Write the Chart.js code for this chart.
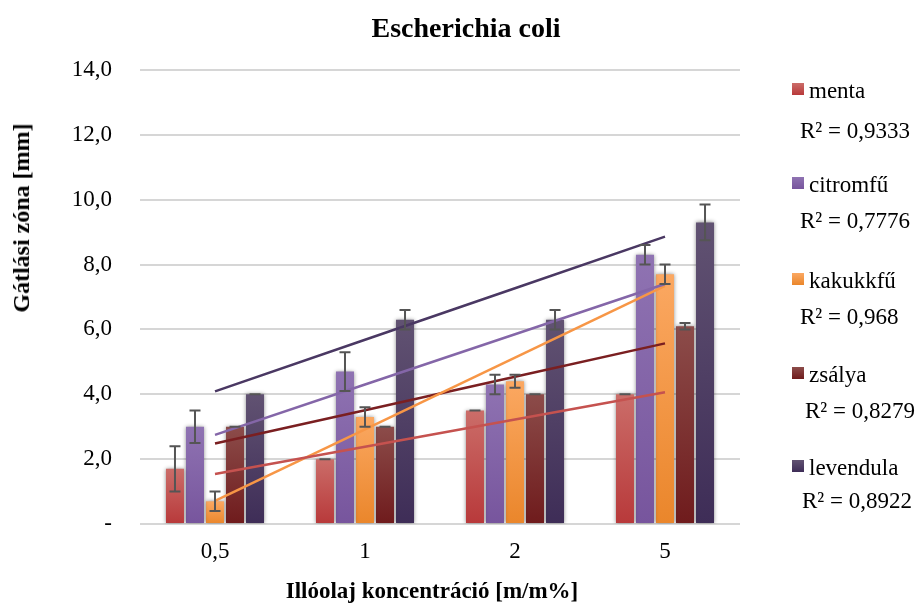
<!DOCTYPE html>
<html>
<head>
<meta charset="utf-8">
<script src="https://cdn.jsdelivr.net/npm/chart.js@4/dist/chart.umd.min.js"></script>
<style>
  html, body { margin: 0; padding: 0; background: #fff; }
  #wrap { position: relative; width: 920px; height: 606px; font-family: "Liberation Serif", serif; color: #000; }
  #c { position: absolute; left: 0; top: 0; }
  .t { position: absolute; white-space: nowrap; line-height: 1; font-family: "Liberation Serif", serif; }
  .ctr { transform: translate(-50%, -50%); }
  .box { position: absolute; width: 12px; height: 12px; }
</style>
</head>
<body>
<div id="wrap">
  <canvas id="c" width="920" height="606"></canvas>
</div>
<script>
const categories = ['0,5', '1', '2', '5'];
const seriesNames = ['menta', 'citromfű', 'kakukkfű', 'zsálya', 'levendula'];
const menta = [1.7, 2.0, 3.5, 4.0];
const citromfu = [3.0, 4.7, 4.3, 8.3];
const kakukkfu = [0.7, 3.3, 4.4, 7.7];
const zsalya = [3.0, 3.0, 4.0, 6.1];
const levendula = [4.0, 6.3, 6.3, 9.3];
const mentaErr = [0.7, 0, 0, 0];
const citromfuErr = [0.5, 0.6, 0.3, 0.3];
const kakukkfuErr = [0.3, 0.3, 0.2, 0.3];
const zsalyaErr = [0, 0, 0, 0.1];
const levendulaErr = [0, 0.3, 0.3, 0.55];
const r2Labels = ['0,9333', '0,7776', '0,968', '0,8279', '0,8922'];
const yTicks = [0, 2, 4, 6, 8, 10, 12, 14];

const values = [menta, citromfu, kakukkfu, zsalya, levendula];
const errors = [mentaErr, citromfuErr, kakukkfuErr, zsalyaErr, levendulaErr];

const gradTop = ['#cb6d69', '#8f73b2', '#fba862', '#8c4c4a', '#615272'];
const gradBot = ['#b8393a', '#77559d', '#ea862b', '#6f1b1c', '#3e2d57'];
const solid = ['#c0504d', '#8064a2', '#f79646', '#7b2a2a', '#4f3f66'];
const lineCol = ['#c5524f', '#8466a8', '#f79646', '#7a1f21', '#4a3863'];

function linFit(arr) {
  const n = arr.length;
  const xs = arr.map((_, i) => i + 1);
  const mx = xs.reduce((a, b) => a + b, 0) / n;
  const my = arr.reduce((a, b) => a + b, 0) / n;
  let sxy = 0, sxx = 0;
  for (let i = 0; i < n; i++) { sxy += (xs[i] - mx) * (arr[i] - my); sxx += (xs[i] - mx) ** 2; }
  const b = sxy / sxx, a = my - b * mx;
  return xs.map(x => a + b * x);
}

const FONT = '"Liberation Serif", serif';

const datasets = [];
values.forEach((v, i) => {
  datasets.push({
    type: 'bar',
    label: seriesNames[i],
    data: v,
    order: 1,
    errs: errors[i],
    borderWidth: 0,
    backgroundColor: (c) => {
      if (c.type !== 'data' || !c.chart.scales || !c.chart.scales.y) return solid[i];
      const ys = c.chart.scales.y;
      const top = ys.getPixelForValue(c.parsed ? c.parsed.y : v[c.dataIndex]);
      const bot = ys.getPixelForValue(0);
      if (!isFinite(top) || !isFinite(bot) || top === bot) return solid[i];
      const g = c.chart.ctx.createLinearGradient(0, top, 0, bot);
      g.addColorStop(0, gradTop[i]);
      g.addColorStop(1, gradBot[i]);
      return g;
    }
  });
});
values.forEach((v, i) => {
  datasets.push({
    type: 'line',
    label: seriesNames[i] + ' trend',
    data: linFit(v),
    order: 0,
    borderColor: lineCol[i],
    borderWidth: 2.5,
    pointRadius: 0,
    fill: false,
    tension: 0
  });
});

const shadowPlugin = {
  id: 'barShadow',
  beforeDatasetDraw(chart, args) {
    const ds = chart.data.datasets[args.index];
    if (ds.type === 'bar') {
      const ctx = chart.ctx;
      ctx.save();
      ctx.shadowColor = 'rgba(0,0,0,0.45)';
      ctx.shadowBlur = 4;
      ctx.shadowOffsetX = 0;
      ctx.shadowOffsetY = 0;
    }
  },
  afterDatasetDraw(chart, args) {
    const ds = chart.data.datasets[args.index];
    if (ds.type === 'bar') chart.ctx.restore();
  }
};

const errorPlugin = {
  id: 'errorBars',
  afterDatasetsDraw(chart) {
    const ctx = chart.ctx;
    const ys = chart.scales.y;
    ctx.save();
    ctx.strokeStyle = '#555555';
    ctx.lineWidth = 2;
    chart.data.datasets.forEach((ds, di) => {
      if (ds.type !== 'bar' || !ds.errs) return;
      const meta = chart.getDatasetMeta(di);
      meta.data.forEach((el, j) => {
        const v = ds.data[j], e = ds.errs[j];
        const x = el.x;
        const yHi = ys.getPixelForValue(v + e);
        const yLo = ys.getPixelForValue(v - e);
        const half = 5.5;
        ctx.beginPath();
        ctx.moveTo(x, yHi); ctx.lineTo(x, yLo);
        ctx.moveTo(x - half, yHi); ctx.lineTo(x + half, yHi);
        ctx.moveTo(x - half, yLo); ctx.lineTo(x + half, yLo);
        ctx.stroke();
      });
    });
    ctx.restore();
  }
};

new Chart(document.getElementById('c'), {
  type: 'bar',
  data: { labels: categories, datasets },
  options: {
    responsive: false,
    animation: false,
    devicePixelRatio: 1,
    layout: { padding: { top: 70, right: 180, bottom: 0, left: 0 } },
    datasets: { bar: { categoryPercentage: 0.667, barPercentage: 0.9 } },
    plugins: { legend: { display: false }, title: { display: false }, tooltip: { enabled: false } },
    scales: {
      x: {
        offset: true,
        grid: { display: false, drawTicks: false },
        border: { display: false },
        ticks: { color: '#000', padding: 14, font: { family: FONT, size: 23 } },
        afterFit(s) { s.height = 82; }
      },
      y: {
        min: 0, max: 14,
        afterBuildTicks(s) { s.ticks = yTicks.map(v => ({ value: v })); },
        grid: { color: '#d6d6d6', lineWidth: 2, drawTicks: false },
        border: { display: false },
        ticks: {
          color: '#000', padding: 28, font: { family: FONT, size: 23 },
          callback: (v) => v === 0 ? '-' : v.toFixed(1).replace('.', ',')
        },
        afterFit(s) { s.width = 140; }
      }
    }
  },
  plugins: [shadowPlugin, errorPlugin]
});

// Text overlays (titles + legend)
const wrap = document.getElementById('wrap');
function addText(txt, left, top, style, cls) {
  const d = document.createElement('div');
  d.className = 't' + (cls ? ' ' + cls : '');
  d.textContent = txt;
  d.style.left = left + 'px';
  d.style.top = top + 'px';
  Object.assign(d.style, style || {});
  wrap.appendChild(d);
  return d;
}
addText('Escherichia coli', 466, 28, { fontSize: '28px', fontWeight: 'bold' }, 'ctr');
addText('Gátlási zóna [mm]', 21, 218, { fontSize: '24px', fontWeight: 'bold', transform: 'translate(-50%,-50%) rotate(-90deg)' });
addText('Illóolaj koncentráció [m/m%]', 432, 590, { fontSize: '23px', fontWeight: 'bold' }, 'ctr');

const labelY = [90, 184, 280, 374, 467];
const r2Y = [130, 220, 316, 410, 500];
const r2X = [800, 800, 800, 805, 802];
seriesNames.forEach((name, i) => {
  const b = document.createElement('div');
  b.className = 'box';
  b.style.left = '792px';
  b.style.top = (labelY[i] - 7) + 'px';
  b.style.background = 'linear-gradient(' + gradTop[i] + ',' + gradBot[i] + ')';
  wrap.appendChild(b);
  addText(name, 809, labelY[i], { fontSize: '23px', transform: 'translateY(-50%)' });
  addText('R² = ' + r2Labels[i], r2X[i], r2Y[i], { fontSize: '23px', transform: 'translateY(-50%)' });
});
</script>
</body>
</html>
